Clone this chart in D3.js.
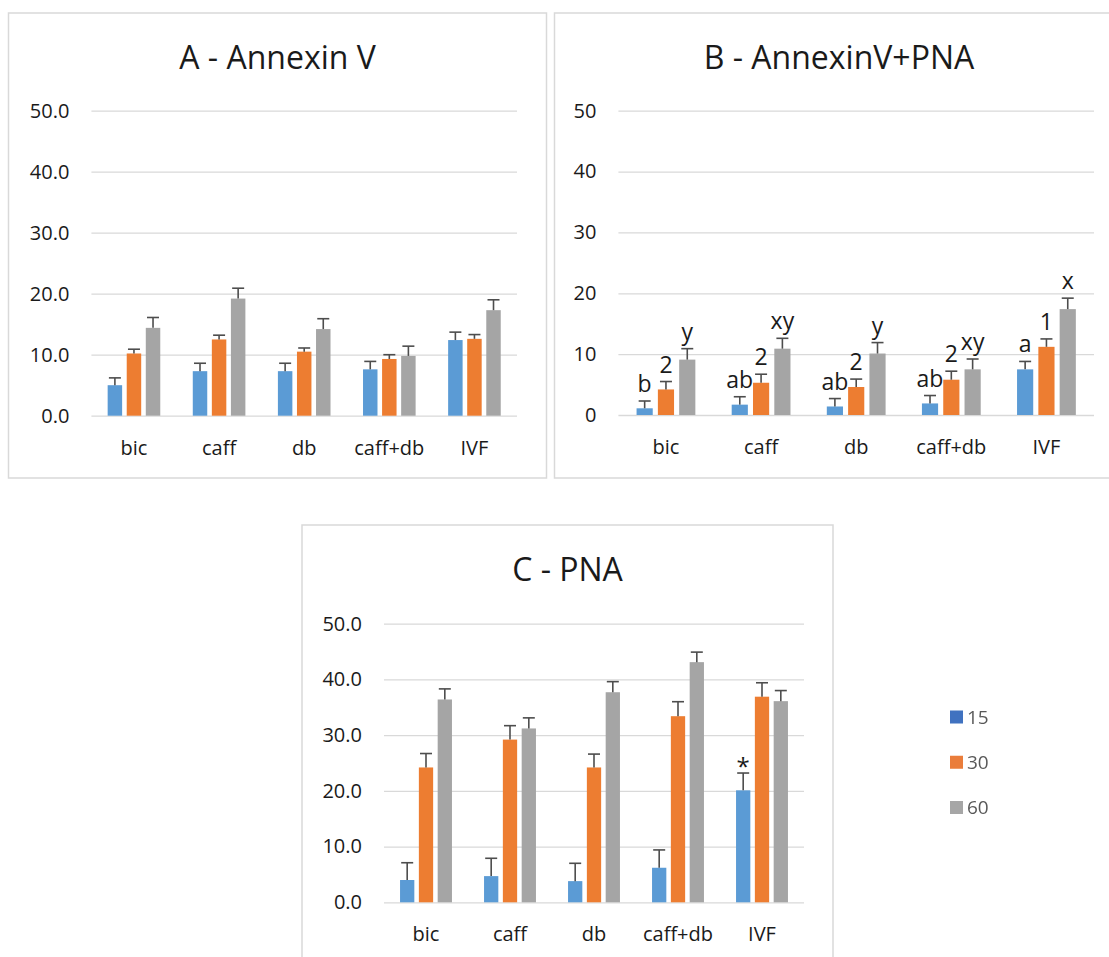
<!DOCTYPE html>
<html>
<head>
<meta charset="utf-8">
<script src="https://cdn.jsdelivr.net/npm/d3@7"></script>
<style>
  html, body { margin: 0; padding: 0; background: #fff; }
  svg { display: block; }
  text { font-family: "Open Sans", "Noto Sans", sans-serif; }
</style>
</head>
<body>
<svg id="fig" width="1109" height="957"></svg>
<script>
// Treatments and incubation times (min)
const categories = ["bic", "caff", "db", "caff+db", "IVF"];
const seriesNames = ["15", "30", "60"];
const yTicks = [0, 10, 20, 30, 40, 50];

// A - Annexin V: means and upper error (SEM)
const annexin15 = [5.0, 7.3, 7.3, 7.6, 12.4];
const annexin30 = [10.2, 12.5, 10.5, 9.3, 12.6];
const annexin60 = [14.4, 19.2, 14.2, 9.8, 17.3];
const annexinErr15 = [1.2, 1.3, 1.3, 1.3, 1.3];
const annexinErr30 = [0.7, 0.7, 0.6, 0.7, 0.7];
const annexinErr60 = [1.7, 1.7, 1.7, 1.6, 1.7];

// B - AnnexinV+PNA: means, upper error and significance letters
const both15 = [1.1, 1.7, 1.4, 1.9, 7.5];
const both30 = [4.2, 5.3, 4.6, 5.8, 11.2];
const both60 = [9.1, 10.9, 10.1, 7.5, 17.4];
const bothErr15 = [1.2, 1.3, 1.3, 1.3, 1.3];
const bothErr30 = [1.3, 1.4, 1.3, 1.4, 1.3];
const bothErr60 = [1.8, 1.7, 1.8, 1.7, 1.8];
const bothLabels15 = ["b", "ab", "ab", "ab", "a"];
const bothLabels30 = ["2", "2", "2", "2", "1"];
const bothLabels60 = ["y", "xy", "y", "xy", "x"];

// C - PNA: means, upper error and significance mark
const pna15 = [4.0, 4.7, 3.8, 6.2, 20.1];
const pna30 = [24.2, 29.2, 24.2, 33.4, 36.9];
const pna60 = [36.4, 31.2, 37.7, 43.1, 36.1];
const pnaErr15 = [3.1, 3.2, 3.2, 3.2, 3.1];
const pnaErr30 = [2.5, 2.5, 2.4, 2.6, 2.5];
const pnaErr60 = [1.9, 1.9, 1.9, 1.8, 1.9];
const pnaLabels15 = ["", "", "", "", "*"];

const barColors = ["#5B9BD5", "#ED7D31", "#A5A5A5"];
const legendColors = ["#3F72C0", "#EA7D3A", "#A6A6A6"];

const svg = d3.select("#fig");

const defs = svg.append("defs");
defs.append("filter").attr("id", "soft")
  .append("feGaussianBlur").attr("stdDeviation", 0.55);

function drawPanel(cfg) {
  const g = svg.append("g");

  // chart frame
  g.append("rect")
    .attr("x", cfg.box.x).attr("y", cfg.box.y)
    .attr("width", cfg.box.w).attr("height", cfg.box.h)
    .attr("fill", "#fff").attr("stroke", "#D9D9D9").attr("stroke-width", 1.5);

  // title
  g.append("text")
    .attr("x", cfg.box.x + cfg.box.w / 2)
    .attr("y", cfg.box.y + 55.5)
    .attr("text-anchor", "middle")
    .attr("font-size", 32)
    .attr("fill", "#1a1a1a")
    .text(cfg.title);

  const y = d3.scaleLinear().domain([0, 50]).range([cfg.plot.bottom, cfg.plot.top]);
  const x0 = d3.scaleBand().domain(categories)
    .range([cfg.plot.left, cfg.plot.right])
    .paddingInner(0.382).paddingOuter(0.191);
  const x1 = d3.scaleBand().domain(seriesNames)
    .range([0, x0.bandwidth()])
    .paddingInner(0.241).paddingOuter(0);

  // value axis with gridlines
  const yAxis = g.append("g")
    .attr("transform", `translate(${cfg.plot.left},0)`)
    .call(d3.axisLeft(y).tickValues(yTicks)
      .tickSize(-(cfg.plot.right - cfg.plot.left))
      .tickPadding(22)
      .tickFormat(cfg.tickFormat));
  yAxis.select(".domain").remove();
  yAxis.selectAll(".tick line").attr("stroke", "#D9D9D9").attr("stroke-width", 1.3);
  yAxis.selectAll(".tick text")
    .attr("font-size", 20).attr("fill", "#1a1a1a")
    .style("font-family", "'Open Sans', sans-serif");

  // category axis
  const xAxis = g.append("g")
    .attr("transform", `translate(0,${cfg.plot.bottom})`)
    .call(d3.axisBottom(x0).tickSize(0));
  xAxis.select(".domain").remove();
  xAxis.selectAll(".tick text")
    .attr("y", 39).attr("dy", null)
    .attr("font-size", 20).attr("fill", "#1a1a1a")
    .style("font-family", "'Open Sans', sans-serif");

  // bars, error bars and labels per series
  cfg.means.forEach((vals, si) => {
    const s = seriesNames[si];
    const errs = cfg.errs[si];
    const rows = categories.map((c, ci) => ({
      cat: c, v: vals[ci], e: errs[ci],
      label: cfg.labels && cfg.labels[si] ? cfg.labels[si][ci] : ""
    }));
    const sg = g.append("g");
    sg.selectAll("rect.bar").data(rows).join("rect")
      .attr("class", "bar")
      .attr("x", d => x0(d.cat) + x1(s))
      .attr("y", d => y(d.v))
      .attr("width", x1.bandwidth())
      .attr("height", d => y(0) - y(d.v))
      .attr("fill", barColors[si]);

    const cx = d => x0(d.cat) + x1(s) + x1.bandwidth() / 2;
    sg.selectAll("line.err").data(rows).join("line")
      .attr("class", "err")
      .attr("x1", cx).attr("x2", cx)
      .attr("y1", d => y(d.v)).attr("y2", d => y(d.v + d.e))
      .attr("stroke", "#4D4D4D").attr("stroke-width", 1.6);
    sg.selectAll("line.cap").data(rows).join("line")
      .attr("class", "cap")
      .attr("x1", d => cx(d) - 6).attr("x2", d => cx(d) + 6)
      .attr("y1", d => y(d.v + d.e)).attr("y2", d => y(d.v + d.e))
      .attr("stroke", "#4D4D4D").attr("stroke-width", 1.6);

    sg.selectAll("text.lab").data(rows.filter(d => d.label)).join("text")
      .attr("class", "lab")
      .attr("x", cx)
      .attr("y", d => y(d.v + d.e) - cfg.labelGap)
      .attr("text-anchor", "middle")
      .attr("font-size", cfg.labelSize)
      .attr("fill", "#1a1a1a")
      .text(d => d.label);
  });
}

drawPanel({
  title: "A - Annexin V",
  box: { x: 8.5, y: 13, w: 538, h: 465 },
  plot: { left: 91.4, right: 517, top: 110.7, bottom: 415.7 },
  tickFormat: d3.format(".1f"),
  means: [annexin15, annexin30, annexin60],
  errs: [annexinErr15, annexinErr30, annexinErr60],
  labels: null, labelGap: 9, labelSize: 23
});

drawPanel({
  title: "B - AnnexinV+PNA",
  box: { x: 554.5, y: 13, w: 569, h: 465 },
  plot: { left: 618.4, right: 1094, top: 110.7, bottom: 415 },
  tickFormat: d3.format("d"),
  means: [both15, both30, both60],
  errs: [bothErr15, bothErr30, bothErr60],
  labels: [bothLabels15, bothLabels30, bothLabels60], labelGap: 9, labelSize: 23
});

drawPanel({
  title: "C - PNA",
  box: { x: 302, y: 525, w: 531, h: 460 },
  plot: { left: 384, right: 804, top: 623.7, bottom: 902.3 },
  tickFormat: d3.format(".1f"),
  means: [pna15, pna30, pna60],
  errs: [pnaErr15, pnaErr30, pnaErr60],
  labels: [pnaLabels15, null, null], labelGap: -2, labelSize: 24
});

// legend for incubation time
const legend = svg.append("g").attr("filter", "url(#soft)");
const legendY = d3.scalePoint().domain(seriesNames).range([717, 807.5]);
seriesNames.forEach((s, i) => {
  legend.append("rect")
    .attr("x", 950).attr("y", legendY(s) - 6.5)
    .attr("width", 13).attr("height", 13)
    .attr("fill", legendColors[i]);
  legend.append("text")
    .attr("x", 967).attr("y", legendY(s))
    .attr("dy", "0.35em")
    .attr("font-size", 19)
    .attr("fill", "#595959")
    .text(s);
});
</script>
</body>
</html>
